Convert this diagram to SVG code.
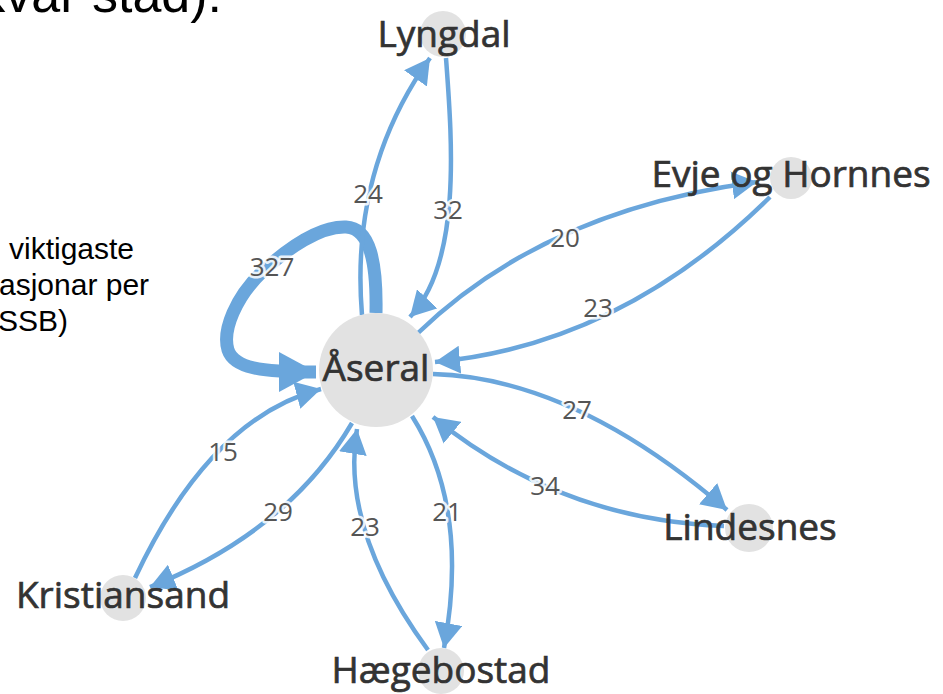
<svg xmlns="http://www.w3.org/2000/svg" width="943" height="694" viewBox="0 0 943 694">
<defs>
<style>
.edge{fill:none;stroke:#6aa6dc;stroke-width:4.5}
.loop{fill:none;stroke:#6aa6dc;stroke-width:13}
.elab{font-family:"Open Sans","Noto Sans",sans-serif;font-size:26px;fill:#555;text-anchor:middle;stroke:#fff;stroke-width:5;stroke-opacity:0.85;paint-order:stroke;stroke-linejoin:round}
.node circle{fill:#e2e2e2}
.nlab{font-family:"Open Sans","Noto Sans",sans-serif;font-size:37px;fill:#333;text-anchor:middle;stroke:#333;stroke-width:0.7}
.slide{font-family:"Liberation Sans",Arial,sans-serif;fill:#000}
</style>
<marker id="arr" markerUnits="userSpaceOnUse" markerWidth="26" markerHeight="28" refX="25" refY="14" orient="auto"><path d="M0,0 L25,14 L0,28 Z" fill="#6aa6dc"/></marker>
<marker id="arrBig" markerUnits="userSpaceOnUse" markerWidth="38" markerHeight="40" refX="37" refY="20" orient="auto"><path d="M0,0 L37,20 L0,40 Z" fill="#6aa6dc"/></marker>
</defs>
<rect width="943" height="694" fill="#fff"/>
<text class="slide" x="222" y="12" font-size="52" text-anchor="end">kvar stad):</text>
<text class="slide" font-size="30"><tspan x="9" y="259">viktigaste</tspan><tspan x="-1" y="295">asjonar per</tspan><tspan x="-2" y="331">SSB)</tspan></text>
<g id="connectors">
<path class="loop" d="M376,313 C377,262 370,228 346,227 C320,226 288,248 262,272 C236,297 222,330 228,350 C234,368 260,372 316,372" marker-end="url(#arrBig)"/>
<path class="edge" d="M362,315 Q350,170 430,58" marker-end="url(#arr)"/>
<path class="edge" d="M446,58 C452,140 462,262 410,317" marker-end="url(#arr)"/>
<path class="edge" d="M418,333 Q545,210 757,182" marker-end="url(#arr)"/>
<path class="edge" d="M770,197 Q620,345 435,362" marker-end="url(#arr)"/>
<path class="edge" d="M433,374 Q574,378 727,510" marker-end="url(#arr)"/>
<path class="edge" d="M724,526 Q560,520 433,417" marker-end="url(#arr)"/>
<path class="edge" d="M412,416 Q470,508 444,648" marker-end="url(#arr)"/>
<path class="edge" d="M428,650 Q340,530 357,429" marker-end="url(#arr)"/>
<path class="edge" d="M352,423 Q289,531 150,587" marker-end="url(#arr)"/>
<path class="edge" d="M135,578 Q210,418 321,389" marker-end="url(#arr)"/>
<text class="elab" x="272" y="276">327</text>
<text class="elab" x="368" y="203">24</text>
<text class="elab" x="448" y="219">32</text>
<text class="elab" x="565" y="247">20</text>
<text class="elab" x="598" y="317">23</text>
<text class="elab" x="577" y="419">27</text>
<text class="elab" x="545" y="495">34</text>
<text class="elab" x="447" y="521">21</text>
<text class="elab" x="365" y="536">23</text>
<text class="elab" x="278" y="521">29</text>
<text class="elab" x="223" y="461">15</text>
</g>
<g id="node-aseral" class="node"><circle cx="376" cy="370" r="57"/><text class="nlab" x="376" y="381">Åseral</text></g>
<g id="node-lyngdal" class="node"><circle cx="443" cy="34" r="23"/><text class="nlab" x="444" y="47">Lyngdal</text></g>
<g id="node-evje" class="node"><circle cx="791" cy="178" r="21"/><text class="nlab" x="791" y="187">Evje og Hornnes</text></g>
<g id="node-lindesnes" class="node"><circle cx="749" cy="528" r="24"/><text class="nlab" x="750" y="540">Lindesnes</text></g>
<g id="node-kristiansand" class="node"><circle cx="123" cy="598" r="23"/><text class="nlab" x="123" y="608">Kristiansand</text></g>
<g id="node-haegebostad" class="node"><circle cx="441" cy="671" r="23"/><text class="nlab" x="441" y="683">Hægebostad</text></g>
</svg>
